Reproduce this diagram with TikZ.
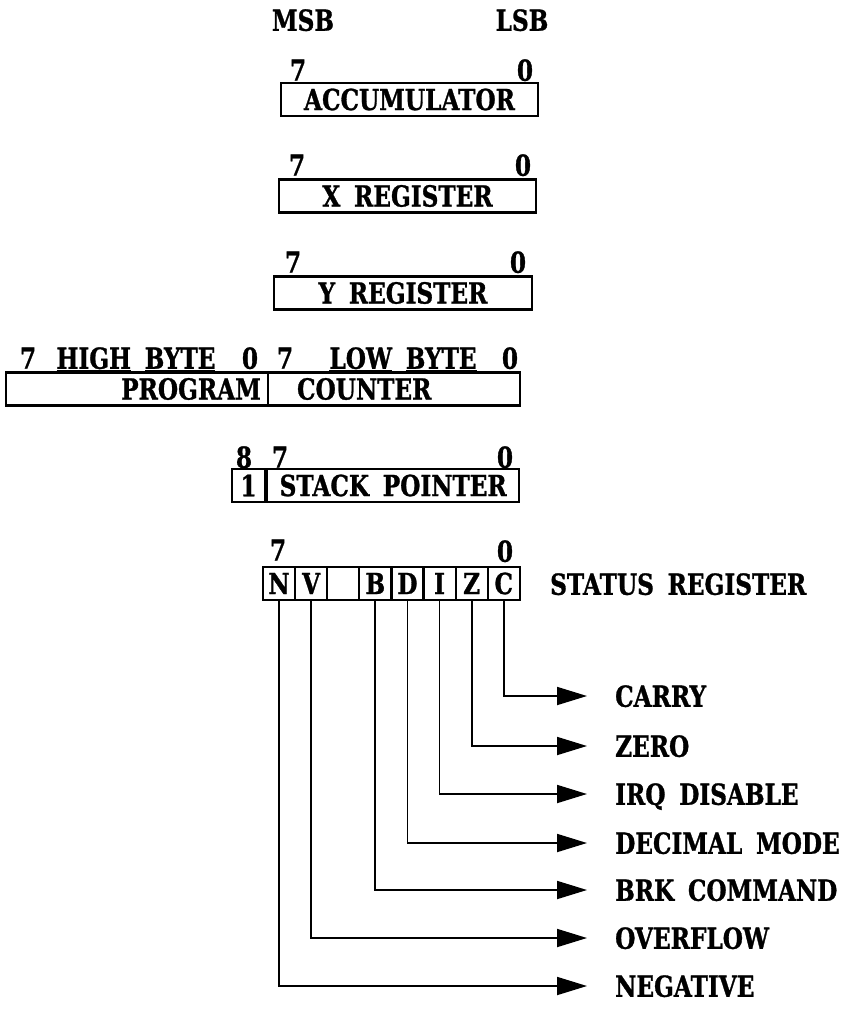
\documentclass[tikz,border=0pt]{standalone}
\usepackage{fontspec}
\setmainfont{DejaVu Serif}[FakeStretch=0.8, WordSpace=1.7, FakeBold=1]
\usetikzlibrary{arrows.meta, positioning}
\newcommand\regfont{\bfseries\fontsize{29}{32}\selectfont}
\tikzset{
  regbox/.style={draw, line width=2.2pt, minimum height=33pt, inner sep=0pt},
  flagcell/.style={regbox, minimum width=32.1pt},
  bitno/.style={inner sep=0pt, text depth=0pt},
  flagname/.style={anchor=west, inner sep=0pt, text depth=0pt},
  flagline/.style={line width=1.8pt, -{Triangle[length=30pt, width=18pt]}},
}

\begin{document}
\begin{tikzpicture}[x=1pt, y=-1pt, font=\regfont]
  \useasboundingbox (0,0) rectangle (847,1011);
  % bit order
  \node[bitno] (msb) at (303,20) {MSB};
  \node[bitno] (lsb) at (522,20) {LSB};
  % accumulator, X and Y
  \node[regbox, minimum width=257pt] (acc) at (409.5,99.5) {ACCUMULATOR};
  \node[bitno] (acc7) at (298,70) {7};
  \node[bitno] (acc0) at (525,70) {0};
  \node[regbox, minimum width=257pt] (xreg) at (407.5,196) {X REGISTER};
  \node[bitno] (x7) at (297,165) {7};
  \node[bitno] (x0) at (523,165) {0};
  \node[regbox, minimum width=258pt] (yreg) at (403,293) {Y REGISTER};
  \node[bitno] (y7) at (293,262) {7};
  \node[bitno] (y0) at (518,262) {0};
  % program counter
  \node[regbox, minimum width=262pt] (pch) at (137,389) {};
  \node[regbox, minimum width=252pt] (pcl) at (394,389) {};
  \node[anchor=east, inner sep=0pt] (pctxt1) at ([xshift=-8pt]pch.east) {PROGRAM};
  \node[anchor=west, inner sep=0pt] (pctxt2) at ([xshift=30pt]pcl.west) {COUNTER};
  \node[bitno] (pch7) at (28,358) {7};
  \node[bitno] (hibyte) at (136,358) {\underline{HIGH}\ \underline{BYTE}};
  \node[bitno] (pch0) at (250,358) {0};
  \node[bitno] (pcl7) at (285,358) {7};
  \node[bitno] (lobyte) at (403,358) {\underline{LOW}\ \underline{BYTE}};
  \node[bitno] (pcl0) at (510,358) {0};
  % stack pointer
  \node[regbox, minimum width=33pt] (sp8) at (248.5,485.5) {1};
  \node[regbox, minimum width=252pt, anchor=west] (sp) at (sp8.east) {STACK POINTER};
  \node[bitno] (sp8n) at (244,457) {8};
  \node[bitno] (sp7n) at (280,457) {7};
  \node[bitno] (sp0n) at (505,457) {0};
  % status register
  \foreach \f/\k [count=\i from 0] in {N/7, V/6, {}/5, B/4, D/3, I/2, Z/1, C/0}
    \node[flagcell] (f\k) at (279.05+32.1*\i,583.5) {\f};
  \node[bitno] (st7) at (278,550) {7};
  \node[bitno] (st0) at (505,551) {0};
  \node[flagname] (status) at (550,584) {STATUS REGISTER};
  % flags
  \node[flagname] (carry) at (615,696) {CARRY};
  \node[flagname] (zero) at (615,746) {ZERO};
  \node[flagname] (irq) at (615,794) {IRQ DISABLE};
  \node[flagname] (dec) at (615,843) {DECIMAL MODE};
  \node[flagname] (brk) at (615,890) {BRK COMMAND};
  \node[flagname] (ovf) at (615,938) {OVERFLOW};
  \node[flagname] (neg) at (615,986) {NEGATIVE};
  \foreach \k/\lab in {0/carry, 1/zero, 2/irq, 3/dec, 4/brk, 6/ovf, 7/neg}
    \draw[flagline] (f\k.south) |- ([xshift=-28pt]\lab.west);
\end{tikzpicture}
\end{document}
